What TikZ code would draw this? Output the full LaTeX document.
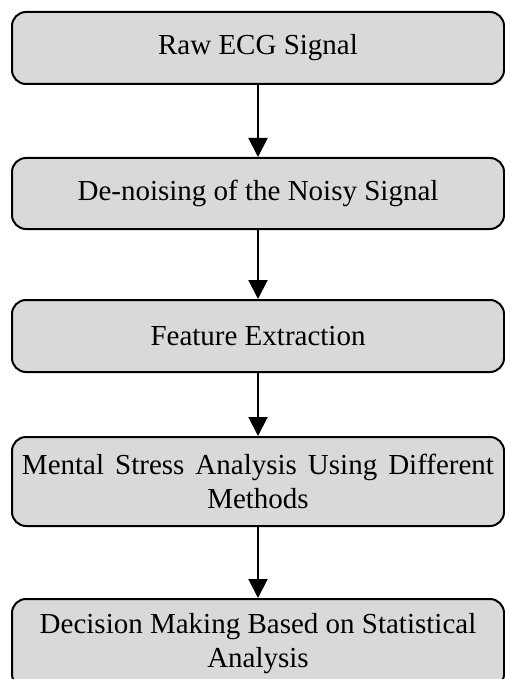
\documentclass[tikz,border=0pt]{standalone}
\usepackage{fontspec}
\setmainfont{Liberation Serif}
\usetikzlibrary{arrows.meta}
\definecolor{boxgray}{HTML}{D9D9D9}
\tikzset{
  stagebox/.style={draw=black, line width=2pt, fill=boxgray, rounded corners=14pt,
    minimum width=492pt, inner sep=0pt, align=center,
    font=\fontsize{29}{34}\selectfont},
  flowarrow/.style={line width=2pt, -{Triangle[width=19pt,length=19pt]}}
}
\begin{document}
\begin{tikzpicture}[x=1pt,y=-1pt]
\useasboundingbox (0,0) rectangle (505,679);
\node[stagebox, minimum height=72pt] (raw) at (258,48) {Raw ECG Signal};
\node[stagebox, minimum height=71pt] (denoise) at (258,193.5) {De-noising of the Noisy Signal};
\node[stagebox, minimum height=72pt] (feature) at (258,336) {Feature Extraction};
\node[stagebox, minimum height=89pt] (stress) at (258,481.5) {\spaceskip=0.38em plus 0.1em Mental Stress Analysis Using Different\\Methods};
\node[stagebox, minimum height=89pt] (decision) at (258,643.5) {Decision Making Based on Statistical\\Analysis};
\draw[flowarrow] (raw.south) -- (denoise.north);
\draw[flowarrow] (denoise.south) -- (feature.north);
\draw[flowarrow] (feature.south) -- (stress.north);
\draw[flowarrow] (stress.south) -- (decision.north);
\end{tikzpicture}
\end{document}
